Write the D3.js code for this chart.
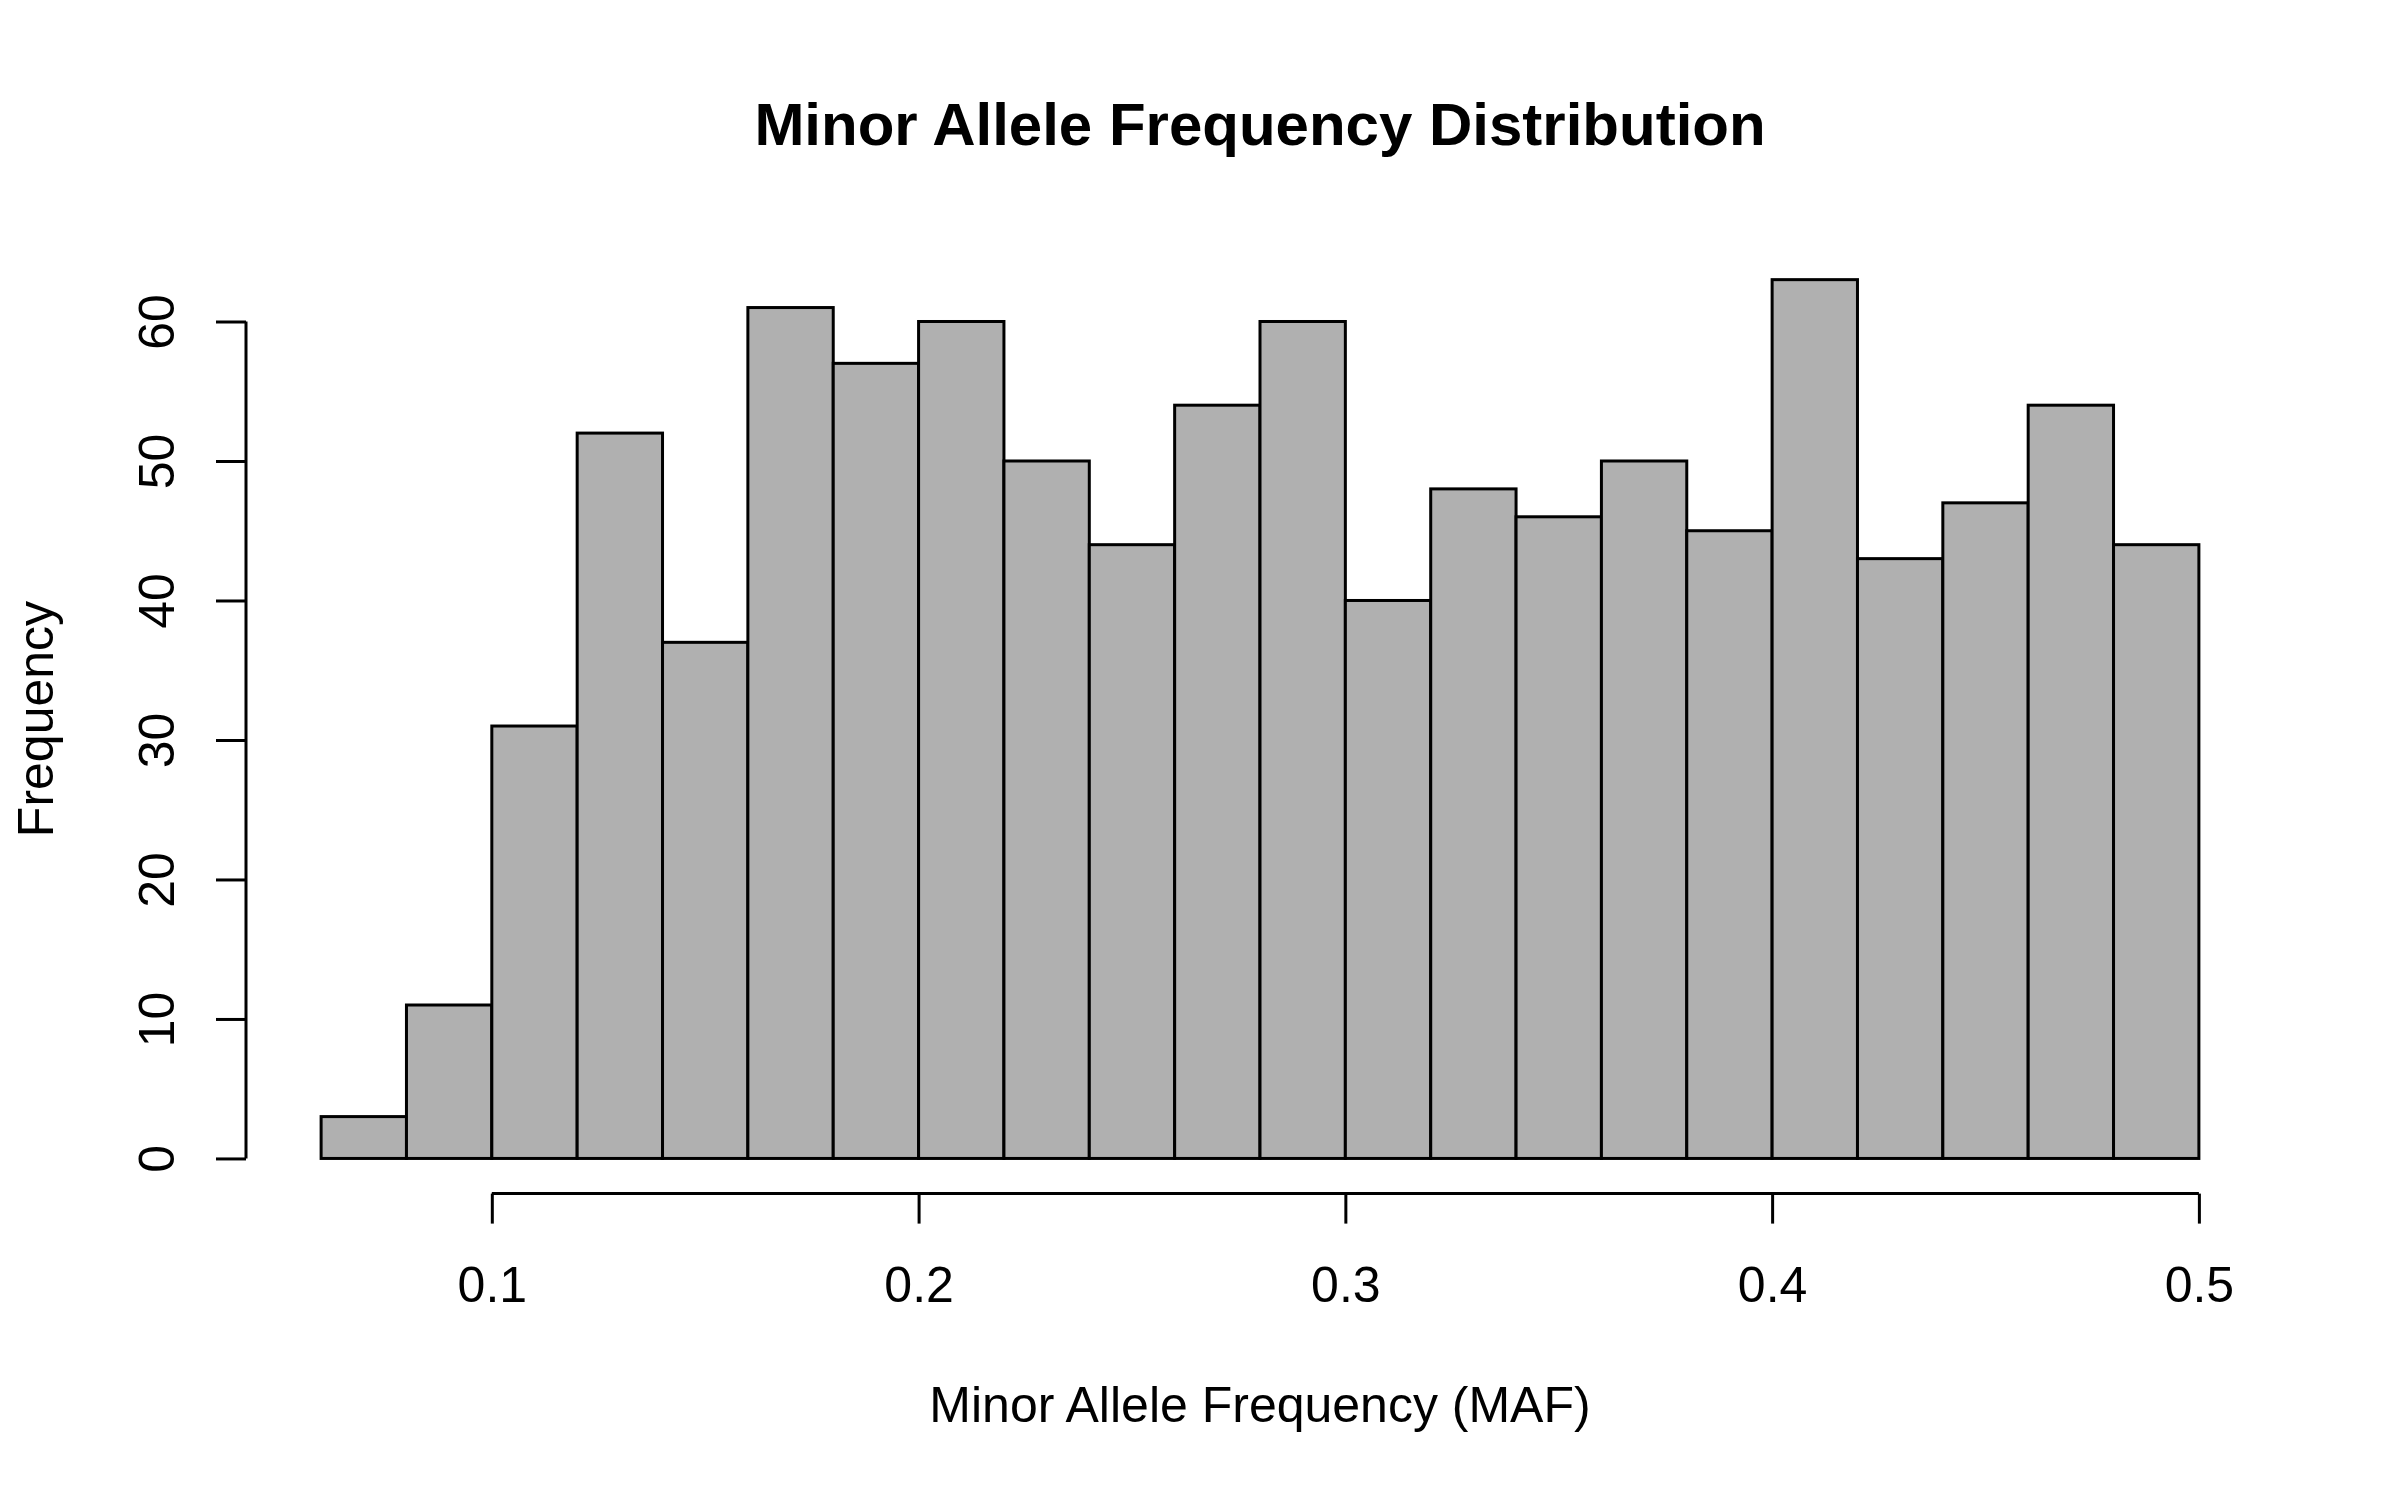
<!DOCTYPE html>
<html>
<head>
<meta charset="utf-8">
<script src="https://cdn.jsdelivr.net/npm/d3@7"></script>
<style>
    body { margin: 0; background: #fff; }
    text { font-family: "Liberation Sans", Arial, Helvetica, sans-serif; fill: #000; }
</style>
</head>
<body>
<div id="hist"></div>
<script>
// bin edges (left side of each bin), bin width 0.02
let binStarts = [0.06, 0.08, 0.10, 0.12, 0.14, 0.16, 0.18, 0.20, 0.22, 0.24, 0.26,
                 0.28, 0.30, 0.32, 0.34, 0.36, 0.38, 0.40, 0.42, 0.44, 0.46, 0.48];
let binWidth = 0.02;
let counts = [3, 11, 31, 52, 37, 61, 57, 60, 50, 44, 54,
              60, 40, 48, 46, 50, 45, 63, 43, 47, 54, 44];
let xTicks = [0.1, 0.2, 0.3, 0.4, 0.5];
let yTicks = [0, 10, 20, 30, 40, 50, 60];

/**
 * Constructor for the histogram
 */
function MafHistogram(){
    let self = this;
    self.init();
};

/**
 * Builds the svg, scales and draws everything
 */
MafHistogram.prototype.init = function(){
    let self = this;
    self.width = 2400;
    self.height = 1500;
    // plot region (R style, 4% padding on both axes)
    self.plot = {left: 246, right: 2274, top: 244.5, bottom: 1193.6};

    self.svg = d3.select("#hist").append("svg")
        .attr("width", self.width)
        .attr("height", self.height);

    let xMin = d3.min(binStarts), xMax = d3.max(binStarts) + binWidth;
    let xPad = (xMax - xMin) * 0.04;
    let yMax = d3.max(counts);
    let yPad = yMax * 0.04;

    self.x = d3.scaleLinear()
        .domain([xMin - xPad, xMax + xPad])
        .range([self.plot.left, self.plot.right]);
    self.y = d3.scaleLinear()
        .domain([-yPad, yMax + yPad])
        .range([self.plot.bottom, self.plot.top]);

    self.drawBars();
    self.drawAxes();
    self.drawLabels();
};

MafHistogram.prototype.drawBars = function(){
    let self = this;
    let data = binStarts.map(function(b, i){ return {x0: b, x1: b + binWidth, n: counts[i]}; });

    self.svg.append("g").selectAll("rect")
        .data(data)
        .enter()
        .append("rect")
        .attr("x", function(d){ return self.x(d.x0); })
        .attr("width", function(d){ return self.x(d.x1) - self.x(d.x0); })
        .attr("y", function(d){ return self.y(d.n); })
        .attr("height", function(d){ return self.y(0) - self.y(d.n); })
        .attr("fill", "#b0b0b0")
        .attr("stroke", "#000")
        .attr("stroke-width", 3);
};

MafHistogram.prototype.drawAxes = function(){
    let self = this;
    let tickLen = 30;

    // x axis sits at the bottom of the plot region
    let xAxis = d3.axisBottom(self.x)
        .tickValues(xTicks)
        .tickSize(tickLen)
        .tickSizeOuter(0)
        .tickFormat(d3.format(".1f"));
    let gx = self.svg.append("g")
        .attr("transform", "translate(0," + self.plot.bottom + ")")
        .call(xAxis);
    gx.select(".domain").remove();
    gx.append("line")
        .attr("x1", self.x(d3.min(xTicks))).attr("x2", self.x(d3.max(xTicks)))
        .attr("y1", 0).attr("y2", 0)
        .attr("stroke", "#000").attr("stroke-width", 3);
    gx.selectAll(".tick line").attr("stroke", "#000").attr("stroke-width", 3);
    gx.selectAll(".tick text")
        .attr("y", 108)
        .attr("dy", null)
        .style("font-size", "50px")
        .style("font-family", "'Liberation Sans', Arial, Helvetica, sans-serif")
        .attr("fill", "#000");

    // y axis sits at the left of the plot region
    let yAxis = d3.axisLeft(self.y)
        .tickValues(yTicks)
        .tickSize(tickLen)
        .tickSizeOuter(0)
        .tickFormat(d3.format("d"));
    let gy = self.svg.append("g")
        .attr("transform", "translate(" + self.plot.left + ",0)")
        .call(yAxis);
    gy.select(".domain").remove();
    gy.append("line")
        .attr("x1", 0).attr("x2", 0)
        .attr("y1", self.y(d3.min(yTicks))).attr("y2", self.y(d3.max(yTicks)))
        .attr("stroke", "#000").attr("stroke-width", 3);
    gy.selectAll(".tick line").attr("stroke", "#000").attr("stroke-width", 3);
    gy.selectAll(".tick text")
        .attr("x", null)
        .attr("dy", null)
        .attr("transform", "translate(-72,0) rotate(-90)")
        .attr("text-anchor", "middle")
        .style("font-size", "50px")
        .style("font-family", "'Liberation Sans', Arial, Helvetica, sans-serif")
        .attr("fill", "#000");
};

MafHistogram.prototype.drawLabels = function(){
    let self = this;
    let cx = (self.plot.left + self.plot.right) / 2;
    let cy = (self.plot.top + self.plot.bottom) / 2;

    self.svg.append("text")
        .attr("x", cx)
        .attr("y", 145)
        .attr("text-anchor", "middle")
        .style("font-size", "60px")
        .style("font-weight", "bold")
        .text("Minor Allele Frequency Distribution");

    self.svg.append("text")
        .attr("x", cx)
        .attr("y", 1422)
        .attr("text-anchor", "middle")
        .style("font-size", "50px")
        .text("Minor Allele Frequency (MAF)");

    self.svg.append("text")
        .attr("transform", "translate(53," + cy + ") rotate(-90)")
        .attr("text-anchor", "middle")
        .style("font-size", "50px")
        .text("Frequency");
};

new MafHistogram();
</script>
</body>
</html>
